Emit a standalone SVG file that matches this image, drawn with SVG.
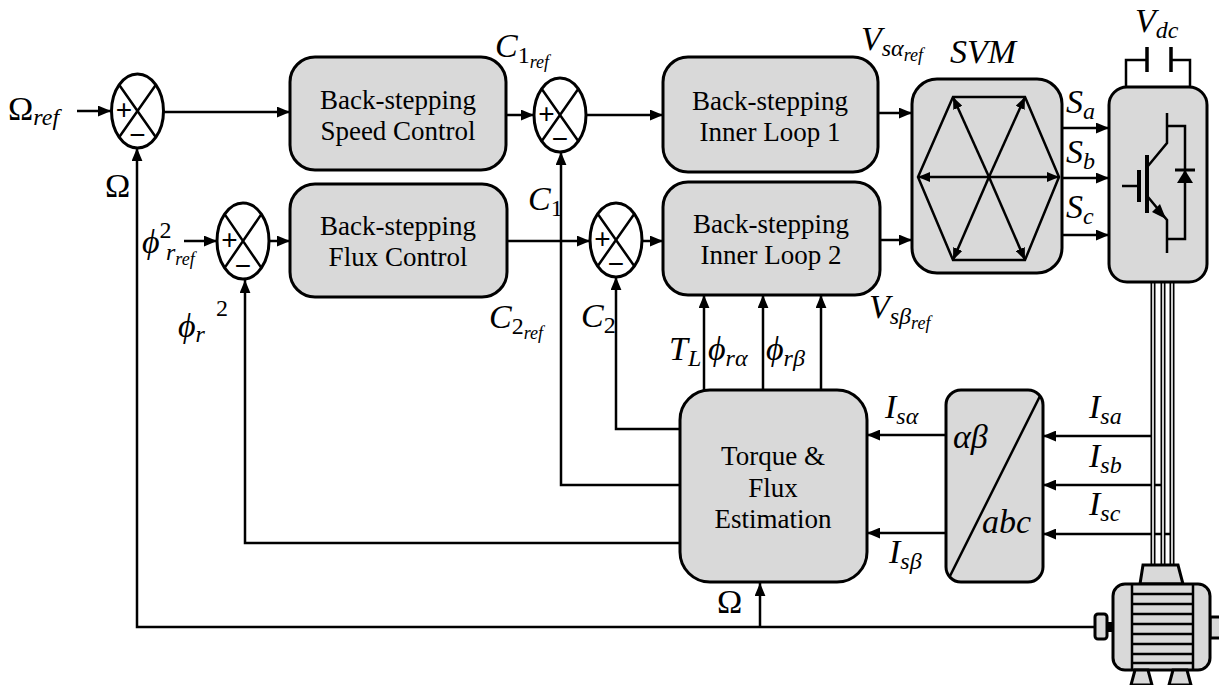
<svg xmlns="http://www.w3.org/2000/svg" width="1219" height="685" viewBox="0 0 1219 685" font-family="Liberation Serif, DejaVu Serif, serif">
  <defs>
    <marker id="ah" viewBox="0 0 12 10" refX="12" refY="5" markerUnits="userSpaceOnUse" markerWidth="13" markerHeight="11" orient="auto">
      <path d="M0,0 L12,5 L0,10 z" fill="#000"/>
    </marker>
    <marker id="ahs" viewBox="0 0 12 10" refX="12" refY="5" markerUnits="userSpaceOnUse" markerWidth="12" markerHeight="10" orient="auto">
      <path d="M0,0 L12,5 L0,10 z" fill="#000"/>
    </marker>
    <style>
      .blk { fill:#d9d9d9; stroke:#000; stroke-width:3; }
      .sum { fill:#fff; stroke:#000; stroke-width:3; }
      .ln { fill:none; stroke:#000; stroke-width:2.5; }
      .arr { marker-end:url(#ah); }
      .harr { fill:none; stroke:#000; stroke-width:2.5; marker-end:url(#ahs); }
      .t { font-size:27px; text-anchor:middle; }
      .m { font-style:italic; font-size:34px; }
      .s { font-size:24px; }
      .ss { font-size:18px; }
      .up { font-style:normal; }
      .sg { font-size:28px; text-anchor:middle; }
      .wire { fill:none; stroke:#000; stroke-width:5; }
      .wirein { fill:none; stroke:#fff; stroke-width:1.6; }
    </style>
  </defs>

  <!-- signal connectors -->
  <g id="connectors">
    <path class="ln arr" d="M77,111 H111"/>
    <path class="ln arr" d="M163,112 H290"/>
    <path class="ln arr" d="M506,115 H534"/>
    <path class="ln arr" d="M586,115 H663"/>
    <path class="ln arr" d="M878,113 H912"/>
    <path class="ln arr" d="M184,241 H217"/>
    <path class="ln arr" d="M269,241 H290"/>
    <path class="ln arr" d="M507,241 H590"/>
    <path class="ln arr" d="M642,241 H663"/>
    <path class="ln arr" d="M880,240 H912"/>
    <path class="ln arr" d="M1062,128 H1109"/>
    <path class="ln arr" d="M1062,178 H1109"/>
    <path class="ln arr" d="M1062,235 H1109"/>
    <!-- speed feedback -->
    <path class="ln arr" d="M1095,627 H137 V148"/>
    <path class="ln arr" d="M760,627 V583"/>
    <!-- estimator outputs -->
    <path class="ln arr" d="M680,543 H245 V280"/>
    <path class="ln arr" d="M680,485 H561 V152"/>
    <path class="ln arr" d="M680,429 H616 V277"/>
    <path class="ln arr" d="M704,390 V295"/>
    <path class="ln arr" d="M763,390 V295"/>
    <path class="ln arr" d="M821,390 V295"/>
    <!-- current measurements -->
    <path class="ln arr" d="M946,435 H867"/>
    <path class="ln arr" d="M946,533 H867"/>
    <path class="ln arr" d="M1153,436 H1043"/>
    <path class="ln arr" d="M1163,485 H1043"/>
    <path class="ln arr" d="M1172,534 H1043"/>
    <!-- three-phase supply lines -->
    <path class="wire" d="M1153,282 V570 M1163,282 V570 M1172,282 V570"/>
    <path class="wirein" d="M1153,282 V570 M1163,282 V570 M1172,282 V570"/>
  </g>

  <!-- summing junctions -->
  <g id="sum1" font-family="Liberation Sans, DejaVu Sans, sans-serif">
    <ellipse class="sum" cx="137.5" cy="111" rx="26" ry="37"/>
    <path class="ln" d="M119.1,84.8 L155.9,137.2 M155.9,84.8 L119.1,137.2"/>
    <text class="sg" x="124" y="119">+</text>
    <text class="sg" x="137.5" y="144">−</text>
  </g>
  <g id="sum2" font-family="Liberation Sans, DejaVu Sans, sans-serif">
    <ellipse class="sum" cx="560" cy="115" rx="26" ry="37"/>
    <path class="ln" d="M541.6,88.8 L578.4,141.2 M578.4,88.8 L541.6,141.2"/>
    <text class="sg" x="546.5" y="123">+</text>
    <text class="sg" x="560" y="148">−</text>
  </g>
  <g id="sum3" font-family="Liberation Sans, DejaVu Sans, sans-serif">
    <ellipse class="sum" cx="243" cy="241" rx="26" ry="38"/>
    <path class="ln" d="M224.6,214.1 L261.4,267.9 M261.4,214.1 L224.6,267.9"/>
    <text class="sg" x="229.5" y="249">+</text>
    <text class="sg" x="243" y="275">−</text>
  </g>
  <g id="sum4" font-family="Liberation Sans, DejaVu Sans, sans-serif">
    <ellipse class="sum" cx="616" cy="240" rx="26" ry="37"/>
    <path class="ln" d="M597.6,213.8 L634.4,266.2 M634.4,213.8 L597.6,266.2"/>
    <text class="sg" x="602.5" y="248">+</text>
    <text class="sg" x="616" y="273">−</text>
  </g>

  <!-- controller blocks -->
  <g id="speed-control">
    <rect class="blk" x="290" y="57" width="216" height="113" rx="25"/>
    <text class="t" x="398" y="109">Back-stepping</text>
    <text class="t" x="398" y="140">Speed Control</text>
  </g>
  <g id="flux-control">
    <rect class="blk" x="290" y="184" width="217" height="113" rx="25"/>
    <text class="t" x="398" y="235">Back-stepping</text>
    <text class="t" x="398" y="266">Flux Control</text>
  </g>
  <g id="inner-loop-1">
    <rect class="blk" x="663" y="57" width="215" height="115" rx="25"/>
    <text class="t" x="770" y="110">Back-stepping</text>
    <text class="t" x="770" y="141">Inner Loop 1</text>
  </g>
  <g id="inner-loop-2">
    <rect class="blk" x="663" y="182" width="217" height="113" rx="25"/>
    <text class="t" x="771" y="233">Back-stepping</text>
    <text class="t" x="771" y="264">Inner Loop 2</text>
  </g>

  <!-- space vector modulator -->
  <g id="svm">
    <rect class="blk" x="912" y="79" width="150" height="194" rx="25"/>
    <polygon points="953,97 1025,97 1059,177 1025,260 953,260 918,177" fill="none" stroke="#000" stroke-width="2.5"/>
    <path class="harr" d="M989,177 L953,97"/>
    <path class="harr" d="M989,177 L1025,97"/>
    <path class="harr" d="M989,177 L1059,177"/>
    <path class="harr" d="M989,177 L1025,260"/>
    <path class="harr" d="M989,177 L953,260"/>
    <path class="harr" d="M989,177 L918,177"/>
  </g>

  <!-- inverter with DC link -->
  <g id="inverter">
    <path class="ln" d="M1126,87 V60 H1147 M1171,60 H1190 V87"/>
    <path d="M1147,47 V72 M1171,47 V72" stroke="#000" stroke-width="3.5"/>
    <rect class="blk" x="1109" y="87" width="98" height="195" rx="18"/>
    <path class="ln" d="M1167,113 V143 L1148,166"/>
    <path d="M1147,155 V213" stroke="#000" stroke-width="4"/>
    <path d="M1139,170 V202" stroke="#000" stroke-width="4"/>
    <path class="ln" d="M1122,186 H1139"/>
    <path class="ln" d="M1148,197 L1167,220 V253"/>
    <path d="M1166,219 L1152,212 L1160,204 z" fill="#000"/>
    <path class="ln" d="M1167,126 H1185 V239 H1167"/>
    <path d="M1185,170 L1193,183 L1177,183 z" fill="#000"/>
    <path d="M1175,170 H1195" stroke="#000" stroke-width="3"/>
  </g>

  <!-- estimator and coordinate transform -->
  <g id="estimator">
    <rect class="blk" x="680" y="390" width="187" height="192" rx="30"/>
    <text class="t" x="773" y="465">Torque &amp;</text>
    <text class="t" x="773" y="497">Flux</text>
    <text class="t" x="773" y="528">Estimation</text>
  </g>
  <g id="transform">
    <rect class="blk" x="946" y="390" width="97" height="192" rx="15"/>
    <path class="ln" d="M1040,396 L950,576"/>
    <text class="m" x="953" y="448">αβ</text>
    <text class="m" x="982" y="533">abc</text>
  </g>

  <!-- induction motor -->
  <g id="motor">
    <polygon points="1143,565 1178,565 1183,584 1140,584" class="blk" stroke-width="2.5"/>
    <rect x="1210" y="617" width="12" height="21" class="blk" stroke-width="2.5"/>
    <rect x="1113" y="584" width="97" height="86" rx="12" class="blk"/>
    <path class="ln" d="M1132,584 V670 M1193,584 V670"/>
    <path class="ln" d="M1132,594 H1193 M1132,604 H1193 M1132,614 H1193 M1132,624 H1193 M1132,634 H1193 M1132,644 H1193 M1132,654 H1193 M1132,663 H1193"/>
    <rect x="1095" y="614" width="12" height="25" rx="3" class="blk" stroke-width="2.5"/>
    <rect x="1107" y="622" width="6" height="10" fill="#000"/>
    <polygon points="1135,670 1148,670 1152,685 1131,685" class="blk" stroke-width="2.5"/>
    <polygon points="1173,670 1187,670 1191,685 1169,685" class="blk" stroke-width="2.5"/>
  </g>

  <!-- signal labels -->
  <g id="labels">
    <text class="m" x="8" y="120"><tspan class="up">Ω</tspan><tspan class="s" dy="5">ref</tspan></text>
    <text class="m up" x="105" y="197">Ω</text>
    <text class="m" x="142" y="253">ϕ<tspan class="s up" dy="-15">2</tspan><tspan class="s" x="166" dy="22">r</tspan><tspan class="ss" dy="5">ref</tspan></text>
    <text class="m" x="178" y="337">ϕ<tspan class="s" dy="5">r</tspan><tspan class="s up" x="216" dy="-26">2</tspan></text>
    <text class="m" x="495" y="57">C<tspan class="s up" dy="6">1</tspan><tspan class="ss" dy="5">ref</tspan></text>
    <text class="m" x="528" y="210">C<tspan class="s up" dy="6">1</tspan></text>
    <text class="m" x="489" y="328">C<tspan class="s up" dy="6">2</tspan><tspan class="ss" dy="5">ref</tspan></text>
    <text class="m" x="581" y="327">C<tspan class="s up" dy="6">2</tspan></text>
    <text class="m" x="861" y="50">V<tspan class="s" dy="6">sα</tspan><tspan class="ss" dy="5">ref</tspan></text>
    <text class="m" x="869" y="318">V<tspan class="s" dy="6">sβ</tspan><tspan class="ss" dy="5">ref</tspan></text>
    <text class="m" x="950" y="63">SVM</text>
    <text class="m" x="1135" y="32">V<tspan class="s" dy="6">dc</tspan></text>
    <text class="m" x="1066" y="113">S<tspan class="s" dy="6">a</tspan></text>
    <text class="m" x="1066" y="163">S<tspan class="s" dy="6">b</tspan></text>
    <text class="m" x="1066" y="218">S<tspan class="s" dy="6">c</tspan></text>
    <text class="m" x="669" y="360">T<tspan class="s" dy="6">L</tspan></text>
    <text class="m" x="708" y="360">ϕ<tspan class="s" dy="6">rα</tspan></text>
    <text class="m" x="766" y="360">ϕ<tspan class="s" dy="6">rβ</tspan></text>
    <text class="m" x="885" y="418">I<tspan class="s" dy="6">sα</tspan></text>
    <text class="m" x="889" y="563">I<tspan class="s" dy="6">sβ</tspan></text>
    <text class="m" x="1089" y="418">I<tspan class="s" dy="6">sa</tspan></text>
    <text class="m" x="1089" y="467">I<tspan class="s" dy="6">sb</tspan></text>
    <text class="m" x="1089" y="515">I<tspan class="s" dy="6">sc</tspan></text>
    <text class="m up" x="717" y="613">Ω</text>
  </g>
</svg>
